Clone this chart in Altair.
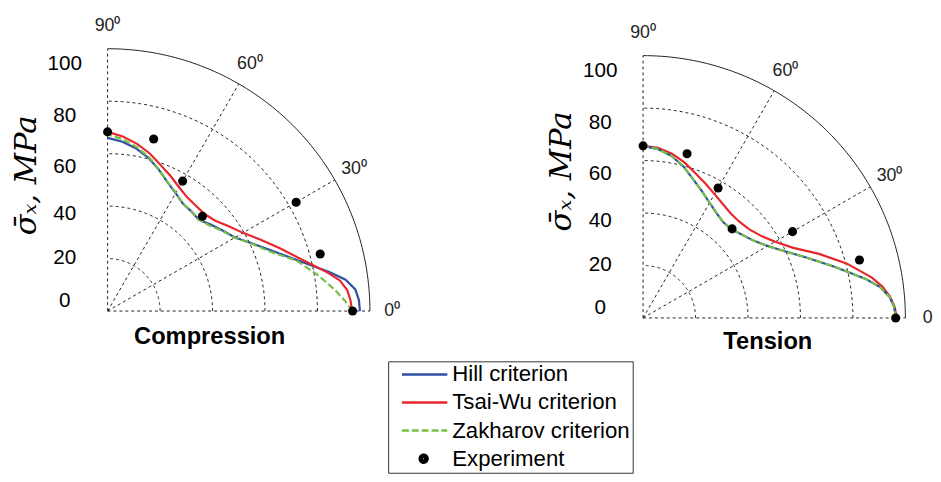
import altair as alt
import pandas as pd
import numpy as np

# ---------------- data ----------------
curve_angles = [0, 2.5, 5, 7.5, 10, 15, 20, 25, 30, 35, 40, 45, 50, 55, 60, 65, 70, 75, 80, 85, 90]

comp_hill = [96.2, 95.9, 94.8, 91.5, 85.8, 74.9, 67.0, 60.9, 56.1, 53.5, 51.3, 49.2, 49.6, 50.0, 51.9, 54.1, 57.3, 60.4, 62.9, 64.8, 66.0]
comp_tsai = [93.2, 92.7, 91.7, 89.3, 85.0, 76.4, 69.9, 64.4, 59.6, 56.4, 53.6, 52.3, 52.4, 52.9, 54.5, 56.8, 59.2, 62.2, 64.7, 66.8, 68.3]
comp_zakh = [93.4, 90.5, 87.4, 84.1, 80.9, 74.5, 66.0, 60.7, 55.9, 53.3, 50.7, 49.3, 49.7, 50.0, 52.1, 54.2, 57.4, 60.8, 63.5, 65.7, 67.4]

tens_hill = [96.4, 95.8, 94.2, 91.0, 86.0, 75.5, 66.8, 60.0, 54.8, 51.4, 49.3, 47.7, 47.6, 48.8, 50.7, 53.2, 56.1, 59.7, 62.7, 64.6, 65.6]
tens_tsai = [96.7, 96.0, 94.4, 92.0, 88.6, 80.3, 71.4, 63.2, 58.1, 54.7, 52.7, 51.9, 52.0, 53.0, 54.5, 56.4, 58.6, 61.3, 63.6, 65.1, 65.6]
tens_zakh = [96.4, 95.8, 94.2, 91.0, 86.0, 75.5, 66.8, 60.0, 54.8, 51.4, 49.3, 47.7, 47.6, 48.8, 50.7, 53.2, 56.1, 59.7, 62.7, 64.6, 65.6]

exp_angles = [0, 15, 30, 45, 60, 75, 90]
comp_exp = [93.4, 83.9, 83.0, 51.1, 57.2, 67.9, 68.3]
tens_exp = [96.3, 85.4, 65.8, 48.0, 57.2, 64.8, 65.6]

series_names = ["Hill criterion", "Tsai-Wu criterion", "Zakharov criterion", "Experiment"]
series_colors = ["#2E4FA6", "#E8262B", "#77C043", "#000000"]

grid_radii = [20, 40, 60, 80]
outer_radius = 100
spoke_angles = [0, 30, 60, 90]
angle_labels_left = ["0\u2070", "30\u2070", "60\u2070", "90\u2070"]
angle_labels_right = ["0", "30\u2070", "60\u2070", "90\u2070"]   # the 0 label is cut by the frame
y_tick_values = [0, 20, 40, 60, 80, 100]
# where the printed y labels sit, in MPa of the radial scale (they are not evenly spaced)
y_label_pos = [3.95, 20.2, 37.1, 55.2, 74.6, 94.4]

FONT = "Liberation Sans"
PX = 266  # pixels for 100 MPa

XY = {"x": "datum.r * cos(datum.theta * PI / 180)",
      "y": "datum.r * sin(datum.theta * PI / 180)"}

# legend symbol paths (unit = 5 px for symbolSize 100)
line_path = "M0.15,0H9.35"
dot_path = ("M3.75,0A0.8,0.8 0 1,0 5.35,0A0.8,0.8 0 1,0 3.75,0Z "
            "M4.2,0A0.35,0.35 0 1,0 4.9,0A0.35,0.35 0 1,0 4.2,0Z")


def label_expr():
    expr = f"'{y_tick_values[-1]}'"
    for i in range(len(y_label_pos) - 2, -1, -1):
        mid = (y_label_pos[i] + y_label_pos[i + 1]) / 2
        expr = f"datum.value < {mid:.2f} ? '{y_tick_values[i]}' : ({expr})"
    return expr


def panel(hill, tsai, zakh, exp, title, height, title_x, title_y, ytitle_y, angle_labels, legend):
    ymax = 100 * height / PX
    xs = alt.Scale(domain=[0, 100], nice=False, zero=False)
    ys = alt.Scale(domain=[0, ymax], nice=False, zero=False)
    x_axis = alt.Axis(domain=False, ticks=False, labels=False, grid=False,
                      title=title, titleFont=FONT, titleFontSize=24,
                      titleFontWeight="bold", titleColor="black",
                      titleX=title_x, titleY=title_y, titleAlign="center",
                      titleBaseline="middle")
    y_axis = alt.Axis(values=y_label_pos, orient="left", domain=False, ticks=False,
                      tickSize=0, grid=False, labelFont=FONT, labelFontSize=21,
                      labelColor="black", labelAlign="center", labelPadding=44,
                      labelExpr=label_expr(),
                      title="\u03c3\u0304\u2093, MPa", titleFont="DejaVu Serif",
                      titleFontStyle="italic", titleFontWeight="normal",
                      titleFontSize=31, titleColor="black", titlePadding=5,
                      titleY=ytitle_y)

    def X():
        return alt.X("x:Q", scale=xs, axis=x_axis)

    def Y():
        return alt.Y("y:Q", scale=ys, axis=y_axis)

    grid_rows = []
    for r in grid_radii + [outer_radius]:
        for t in range(0, 91):
            grid_rows.append({"r": r, "theta": t, "outer": r == outer_radius})
    grid_df = pd.DataFrame(grid_rows)

    arcs = alt.Chart(grid_df).transform_filter("!datum.outer").transform_calculate(**XY).mark_line(
        color="#222", strokeWidth=1, strokeDash=[3, 3]
    ).encode(x=X(), y=Y(), detail="r:N", order="theta:Q")

    outer = alt.Chart(grid_df).transform_filter("datum.outer").transform_calculate(**XY).mark_line(
        color="#222", strokeWidth=1
    ).encode(x=X(), y=Y(), order="theta:Q")

    spoke_rows = []
    for t in spoke_angles:
        spoke_rows.append({"theta": t, "r": 0})
        spoke_rows.append({"theta": t, "r": outer_radius})
    spokes = alt.Chart(pd.DataFrame(spoke_rows)).transform_calculate(**XY).mark_line(
        color="#222", strokeWidth=1, strokeDash=[3, 3]
    ).encode(x=X(), y=Y(), detail="theta:N", order="r:Q")

    lab_df = pd.DataFrame({"theta": spoke_angles, "r": [108.5] * 4, "label": angle_labels})
    labels = alt.Chart(lab_df).transform_calculate(**XY).mark_text(
        font=FONT, fontSize=18, color="#222", align="center", baseline="middle"
    ).encode(x=X(), y=Y(), text="label:N")

    n = len(curve_angles)
    curve_df = pd.DataFrame({
        "theta": curve_angles * 3,
        "r": hill + tsai + zakh,
        "series": [series_names[0]] * n + [series_names[1]] * n + [series_names[2]] * n,
    })

    def curve(name, color, dash=None):
        kw = dict(color=color, strokeWidth=2.2)
        if dash:
            kw["strokeDash"] = dash
        return alt.Chart(curve_df).transform_filter(
            alt.datum.series == name).transform_calculate(**XY).mark_line(**kw).encode(
            x=X(), y=Y(), order="theta:Q")

    hill_l = curve(series_names[0], series_colors[0])
    tsai_l = curve(series_names[1], series_colors[1])
    zakh_l = curve(series_names[2], series_colors[2], [7, 3])

    exp_df = pd.DataFrame({"theta": exp_angles, "r": exp})
    pts = alt.Chart(exp_df).transform_calculate(**XY).mark_circle(
        color="black", size=85, opacity=1
    ).encode(x=X(), y=Y())

    if legend:
        layers = [arcs, outer, spokes, labels, hill_l, zakh_l, tsai_l, pts]
    else:
        layers = [arcs, outer, spokes, labels, tsai_l, hill_l, zakh_l, pts]

    if legend:
        lg = alt.Legend(title=None, orient="none", legendX=284.5, legendY=317,
                        labelFont=FONT, labelFontSize=22.5, labelColor="black",
                        labelLimit=400,
                        symbolSize=100, symbolStrokeWidth=2.5,
                        strokeColor="#333", padding=2, rowPadding=5.5, labelOffset=40.5)
        leg_df = pd.DataFrame({"series": series_names, "theta": [0] * 4, "r": [0] * 4})
        dummy = alt.Chart(leg_df).transform_filter("false").transform_calculate(**XY).mark_point(
            filled=False, strokeWidth=2.5, opacity=1
        ).encode(
            x=X(), y=Y(),
            color=alt.Color("series:N", scale=alt.Scale(domain=series_names, range=series_colors), legend=lg),
            shape=alt.Shape("series:N", scale=alt.Scale(domain=series_names,
                            range=[line_path, line_path, line_path, dot_path]), legend=lg),
            strokeDash=alt.StrokeDash("series:N", scale=alt.Scale(domain=series_names,
                                      range=[[1, 0], [1, 0], [7, 3], [1, 0]]), legend=lg),
        )
        layers.append(dummy)

    return alt.layer(*layers).properties(width=PX, height=height)


left = panel(comp_hill, comp_tsai, comp_zakh, comp_exp, "Compression", 266, 103, 26, 128,
             angle_labels_left, True)
right = panel(tens_hill, tens_tsai, tens_zakh, tens_exp, "Tension", 273, 126, 24, 124,
              angle_labels_right, False)

chart = alt.hconcat(left, right, spacing=277, bounds="flush").properties(
    padding={"left": 2, "top": 6, "right": 0, "bottom": 0}
).configure_view(stroke=None)

chart.save("out.html", embed_options={"renderer": "svg", "actions": False})
